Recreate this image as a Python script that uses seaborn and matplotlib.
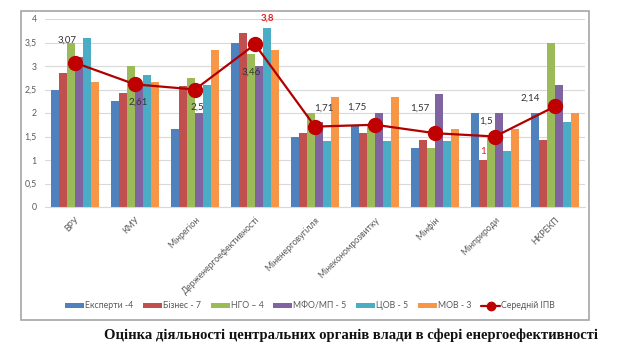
"""
Energy efficiency assessment of central authorities — grouped bars with mean line.
"""
import pandas as pd
import numpy as np
import matplotlib
matplotlib.use('Agg')
import matplotlib.pyplot as plt
from matplotlib.patches import Rectangle
from matplotlib.ticker import FuncFormatter
import seaborn as sns

CATEGORIES = ['ВРУ', 'КМУ', 'Мінрегіон', 'Держенергоефективності', 'Міненерговугілля',
              'Мінекономрозвитку', 'Мінфін', 'Мінприроди', 'НКРЕКП']
GROUPS = ['Експерти -4', 'Бізнес - 7', 'НГО – 4', 'МФО/МП - 5', 'ЦОВ - 5', 'МОВ - 3']

EXPERTS = [2.5, 2.25, 1.67, 3.5, 1.5, 1.75, 1.25, 2.0, 2.0]
BUSINESS = [2.86, 2.43, 2.57, 3.71, 1.57, 1.57, 1.43, 1.0, 1.43]
NGO = [3.5, 3.0, 2.75, 3.25, 2.0, 1.75, 1.25, 1.5, 3.5]
MFO = [3.2, 2.6, 2.0, 3.0, 1.8, 2.0, 2.4, 2.0, 2.6]
COV = [3.6, 2.8, 2.6, 3.8, 1.4, 1.4, 1.4, 1.2, 1.8]
MOV = [2.67, 2.67, 3.33, 3.33, 2.33, 2.33, 1.67, 1.67, 2.0]
MEAN_IPV = [3.07, 2.61, 2.5, 3.46, 1.71, 1.75, 1.57, 1.5, 2.14]
MEAN_LABEL = 'Середній ІПВ'

COLORS = ['#4F81BD', '#C0504D', '#9BBB59', '#8064A2', '#4BACC6', '#F79646']
LINE_COLOR = '#C00000'
TEXT_GRAY = '#595959'

CAPTION = 'Оцінка діяльності центральних органів влади в сфері енергоефективності'

# label offsets in pixels (dx, dy) relative to each mean marker
MEAN_OFFSETS = [(-8, 23), (3, -18), (2, -18), (-4, -28), (9, 18),
                (-18, 18), (-15, 25), (-9, 15), (-25, 8)]


def fmt(v):
    return ('%g' % v).replace('.', ',')


def main():
    sns.set_style('white')
    plt.rcParams['font.family'] = ['Lato', 'DejaVu Sans']

    rows = []
    for g, vals in zip(GROUPS, [EXPERTS, BUSINESS, NGO, MFO, COV, MOV]):
        for c, v in zip(CATEGORIES, vals):
            rows.append({'cat': c, 'group': g, 'value': v})
    df = pd.DataFrame(rows)

    fig = plt.figure(figsize=(6.21, 3.55), dpi=100)
    ax = fig.add_axes([45 / 621, 1 - 207 / 355, 540 / 621, 188 / 355])

    sns.barplot(data=df, x='cat', y='value', hue='group', order=CATEGORIES,
                hue_order=GROUPS, palette=COLORS, saturation=1, width=0.8,
                errorbar=None, linewidth=0, ax=ax, zorder=2)

    xs = np.arange(len(CATEGORIES))
    ax.plot(xs, MEAN_IPV, color='#B00000', lw=1.6, marker='o', markersize=10,
            markerfacecolor=LINE_COLOR, markeredgecolor=LINE_COLOR,
            label=MEAN_LABEL, zorder=3)

    for x, v, (dx, dy) in zip(xs, MEAN_IPV, MEAN_OFFSETS):
        ax.annotate(fmt(v), (x, v), xytext=(dx, dy), textcoords='offset pixels',
                    ha='center', va='center', fontsize=7, color='#333333', zorder=4)

    # highlighted extremes
    bar_w = 0.8 / len(GROUPS)
    ax.annotate(fmt(COV[3]), (3 + (4 - 2.5) * bar_w, COV[3]), xytext=(0, 10),
                textcoords='offset pixels', ha='center', va='center',
                fontsize=7, color='#E02020', fontweight='bold')
    ax.annotate(fmt(BUSINESS[7]), (7 + (1 - 2.5) * bar_w, BUSINESS[7]), xytext=(0, 9),
                textcoords='offset pixels', ha='center', va='center',
                fontsize=7, color='#E02020')

    ax.set_ylim(0, 4)
    ax.set_xlim(-0.5, len(CATEGORIES) - 0.5)
    ax.set_yticks(np.arange(0, 4.01, 0.5))
    ax.yaxis.set_major_formatter(FuncFormatter(lambda v, p: fmt(v)))
    ax.yaxis.grid(True, color='#D9D9D9', lw=0.8, zorder=0)
    ax.set_axisbelow(True)
    for s in ['top', 'right', 'left']:
        ax.spines[s].set_visible(False)
    ax.spines['bottom'].set_color('#D9D9D9')
    ax.tick_params(axis='both', length=0, labelsize=6.3, colors=TEXT_GRAY, pad=6)
    plt.setp(ax.get_xticklabels(), rotation=45, ha='right', rotation_mode='anchor')
    ax.set_xlabel('')
    ax.set_ylabel('')

    handles, labels = ax.get_legend_handles_labels()
    ax.legend(handles, labels, loc='center', bbox_to_anchor=(310 / 621, 1 - 306 / 355),
              bbox_transform=fig.transFigure, ncol=7, frameon=False, fontsize=6.3,
              handlelength=2.2, handleheight=0.45, handletextpad=0.1,
              columnspacing=1.1, labelcolor=TEXT_GRAY, markerscale=0.6)

    fig.patches.append(Rectangle((21 / 621, 1 - 320 / 355), 568 / 621, 309 / 355,
                                 transform=fig.transFigure, fill=False,
                                 edgecolor='#A6A6A6', lw=1.2))

    fig.text(351 / 621, 1 - 335 / 355, CAPTION, ha='center', va='center',
             fontsize=10.5, fontweight='bold', family='Liberation Serif', color='#111111')

    fig.savefig('out.png', dpi=100)
    plt.close(fig)


if __name__ == '__main__':
    main()
